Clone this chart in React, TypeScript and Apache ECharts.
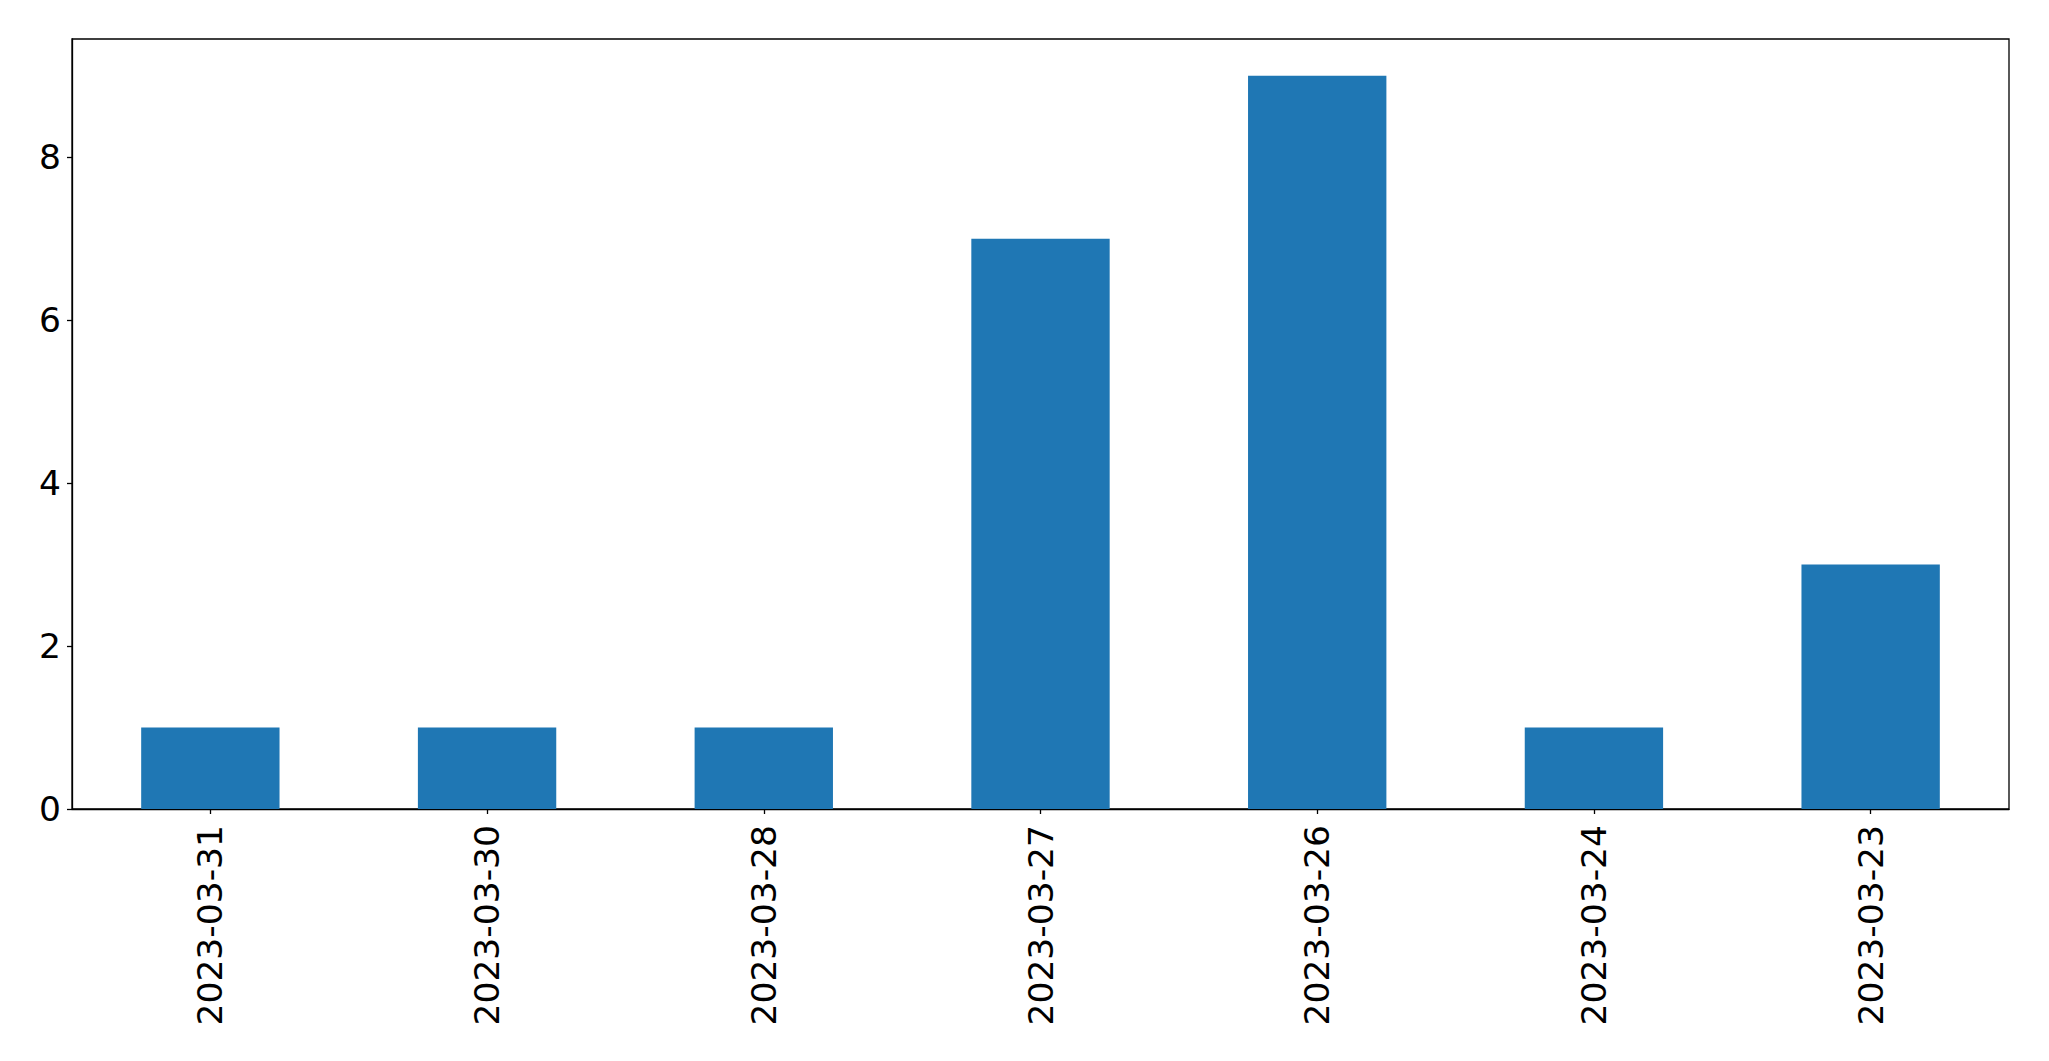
import React, { useEffect, useRef } from "react";
import * as echarts from "echarts";

const categories = ["2023-03-31", "2023-03-30", "2023-03-28", "2023-03-27", "2023-03-26", "2023-03-24", "2023-03-23"];
const values = [1, 1, 1, 7, 9, 1, 3];
const yTicks = [0, 2, 4, 6, 8];

export default function App() {
  const ref = useRef<HTMLDivElement>(null);
  useEffect(() => {
    if (!ref.current) return;
    const chart = echarts.init(ref.current, undefined, { renderer: "svg" });
    const font = "DejaVu Sans";
    chart.setOption({
      animation: false,
      backgroundColor: "#ffffff",
      grid: {
        left: 72,
        top: 39,
        right: 40,
        bottom: 252,
        show: true,
        borderColor: "#000000",
        borderWidth: 1.3,
        containLabel: false,
      },
      xAxis: {
        type: "category",
        data: categories,
        boundaryGap: true,
        axisLine: { show: true, lineStyle: { color: "#000", width: 1.3 } },
        axisTick: { show: true, alignWithLabel: true, length: 5, lineStyle: { color: "#000", width: 1.3 } },
        axisLabel: {
          rotate: 90,
          interval: 0,
          margin: 16,
          color: "#000",
          fontFamily: font,
          fontSize: 34.5,
        },
        splitLine: { show: false },
      },
      yAxis: {
        type: "value",
        min: 0,
        max: 9.45,
        interval: 2,
        axisLine: { show: true, lineStyle: { color: "#000", width: 1.3 } },
        axisTick: { show: true, length: 5, customValues: yTicks, lineStyle: { color: "#000", width: 1.3 } },
        axisLabel: {
          margin: 11,
          color: "#000",
          fontFamily: font,
          fontSize: 34.5,
          customValues: yTicks,
        },
        splitLine: { show: false },
      },
      series: [
        {
          type: "bar",
          data: values,
          barWidth: "50%",
          itemStyle: { color: "#1f77b4" },
        },
      ],
    });
    return () => chart.dispose();
  }, []);
  return <div ref={ref} style={{ width: 2049, height: 1061, position: "absolute", left: 0, top: 0 }} />;
}
